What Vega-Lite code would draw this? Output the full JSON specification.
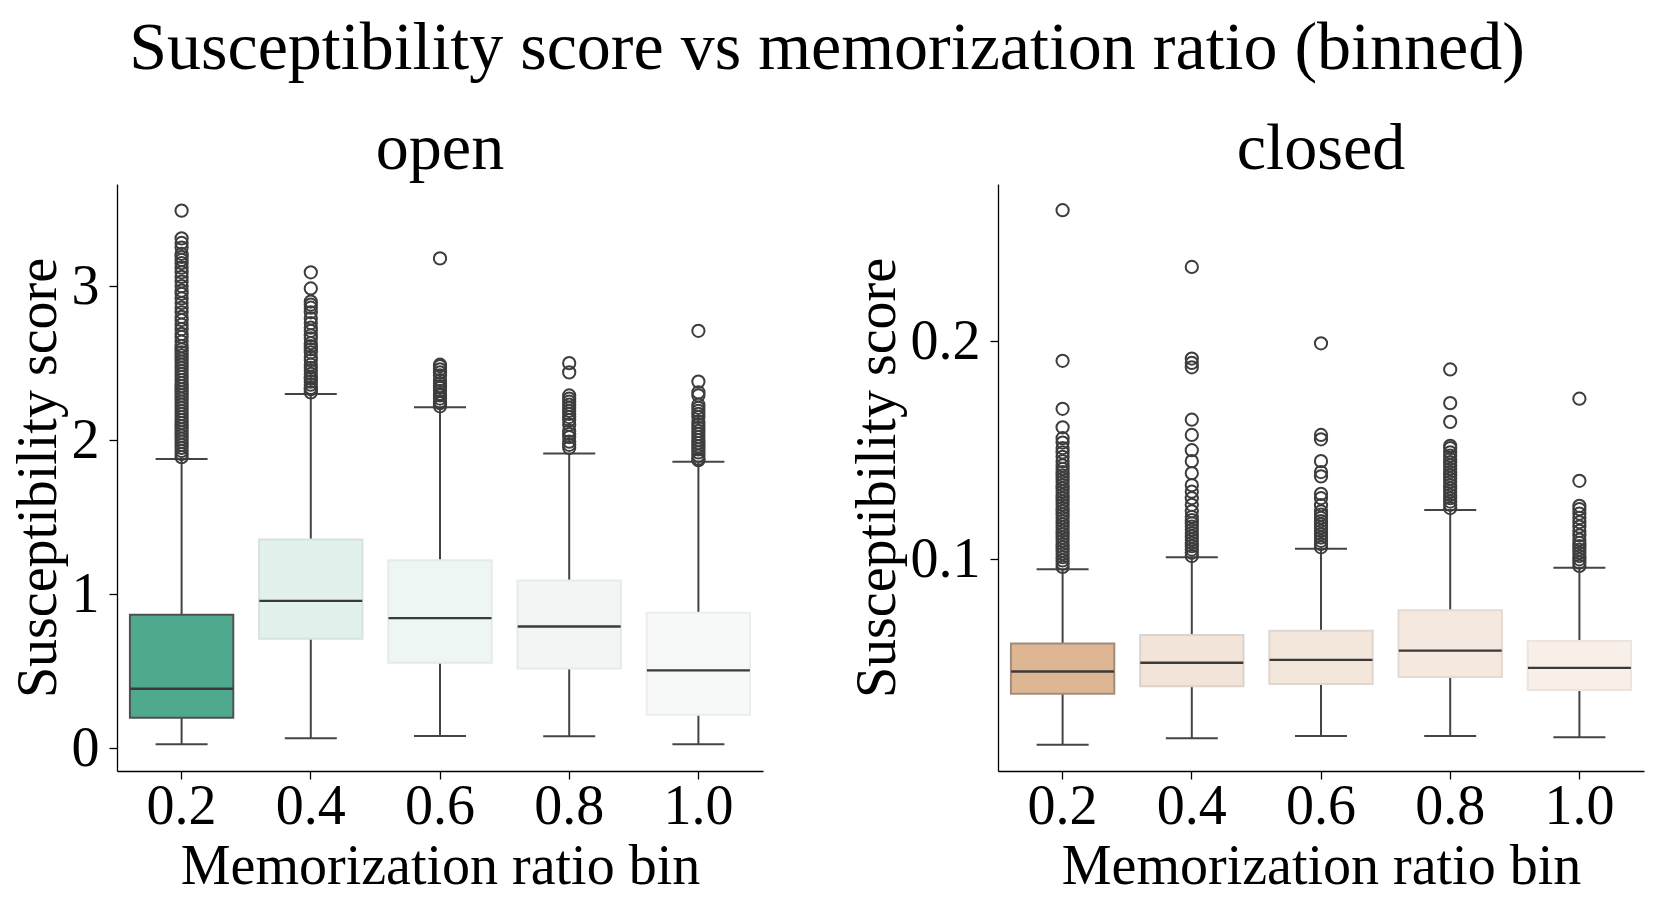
{
  "$schema": "https://vega.github.io/schema/vega-lite/v6.json",
  "background": "white",
  "padding": {"left": 10, "top": 15, "right": 10, "bottom": 10},
  "datasets": {
    "boxes": [
      {"group": "open", "bin": "0.2", "key": "open 0.2", "lo": 0.025, "q1": 0.198, "med": 0.386, "q3": 0.866, "hi": 1.877},
      {"group": "open", "bin": "0.4", "key": "open 0.4", "lo": 0.065, "q1": 0.71, "med": 0.956, "q3": 1.355, "hi": 2.30},
      {"group": "open", "bin": "0.6", "key": "open 0.6", "lo": 0.079, "q1": 0.554, "med": 0.845, "q3": 1.22, "hi": 2.214},
      {"group": "open", "bin": "0.8", "key": "open 0.8", "lo": 0.077, "q1": 0.518, "med": 0.79, "q3": 1.088, "hi": 1.913},
      {"group": "open", "bin": "1.0", "key": "open 1.0", "lo": 0.025, "q1": 0.217, "med": 0.505, "q3": 0.879, "hi": 1.86},
      {"group": "closed", "bin": "0.2", "key": "closed 0.2", "lo": 0.015, "q1": 0.0384, "med": 0.0486, "q3": 0.0614, "hi": 0.0954},
      {"group": "closed", "bin": "0.4", "key": "closed 0.4", "lo": 0.018, "q1": 0.0418, "med": 0.0526, "q3": 0.0653, "hi": 0.101},
      {"group": "closed", "bin": "0.6", "key": "closed 0.6", "lo": 0.019, "q1": 0.0429, "med": 0.0539, "q3": 0.0673, "hi": 0.1049},
      {"group": "closed", "bin": "0.8", "key": "closed 0.8", "lo": 0.019, "q1": 0.0461, "med": 0.0582, "q3": 0.0767, "hi": 0.1226},
      {"group": "closed", "bin": "1.0", "key": "closed 1.0", "lo": 0.0185, "q1": 0.0401, "med": 0.0503, "q3": 0.0626, "hi": 0.0961}
    ],
    "outliers": [
      {"group": "open", "bin": "0.2", "v": 1.89}, {"group": "open", "bin": "0.2", "v": 1.91}, {"group": "open", "bin": "0.2", "v": 1.93}, {"group": "open", "bin": "0.2", "v": 1.95}, {"group": "open", "bin": "0.2", "v": 1.97}, {"group": "open", "bin": "0.2", "v": 1.99}, {"group": "open", "bin": "0.2", "v": 2.01}, {"group": "open", "bin": "0.2", "v": 2.03}, {"group": "open", "bin": "0.2", "v": 2.05}, {"group": "open", "bin": "0.2", "v": 2.07}, {"group": "open", "bin": "0.2", "v": 2.09}, {"group": "open", "bin": "0.2", "v": 2.11}, {"group": "open", "bin": "0.2", "v": 2.13}, {"group": "open", "bin": "0.2", "v": 2.15}, {"group": "open", "bin": "0.2", "v": 2.17}, {"group": "open", "bin": "0.2", "v": 2.19}, {"group": "open", "bin": "0.2", "v": 2.21}, {"group": "open", "bin": "0.2", "v": 2.23}, {"group": "open", "bin": "0.2", "v": 2.25}, {"group": "open", "bin": "0.2", "v": 2.27}, {"group": "open", "bin": "0.2", "v": 2.29}, {"group": "open", "bin": "0.2", "v": 2.31}, {"group": "open", "bin": "0.2", "v": 2.33}, {"group": "open", "bin": "0.2", "v": 2.35}, {"group": "open", "bin": "0.2", "v": 2.37}, {"group": "open", "bin": "0.2", "v": 2.39}, {"group": "open", "bin": "0.2", "v": 2.41}, {"group": "open", "bin": "0.2", "v": 2.43}, {"group": "open", "bin": "0.2", "v": 2.45}, {"group": "open", "bin": "0.2", "v": 2.47}, {"group": "open", "bin": "0.2", "v": 2.49}, {"group": "open", "bin": "0.2", "v": 2.51}, {"group": "open", "bin": "0.2", "v": 2.53}, {"group": "open", "bin": "0.2", "v": 2.55}, {"group": "open", "bin": "0.2", "v": 2.57}, {"group": "open", "bin": "0.2", "v": 2.59}, {"group": "open", "bin": "0.2", "v": 2.61}, {"group": "open", "bin": "0.2", "v": 2.64}, {"group": "open", "bin": "0.2", "v": 2.67}, {"group": "open", "bin": "0.2", "v": 2.69}, {"group": "open", "bin": "0.2", "v": 2.72}, {"group": "open", "bin": "0.2", "v": 2.75}, {"group": "open", "bin": "0.2", "v": 2.78}, {"group": "open", "bin": "0.2", "v": 2.8}, {"group": "open", "bin": "0.2", "v": 2.83}, {"group": "open", "bin": "0.2", "v": 2.86}, {"group": "open", "bin": "0.2", "v": 2.89}, {"group": "open", "bin": "0.2", "v": 2.92}, {"group": "open", "bin": "0.2", "v": 2.95}, {"group": "open", "bin": "0.2", "v": 2.97}, {"group": "open", "bin": "0.2", "v": 3.0}, {"group": "open", "bin": "0.2", "v": 3.03}, {"group": "open", "bin": "0.2", "v": 3.06}, {"group": "open", "bin": "0.2", "v": 3.09}, {"group": "open", "bin": "0.2", "v": 3.12}, {"group": "open", "bin": "0.2", "v": 3.15}, {"group": "open", "bin": "0.2", "v": 3.17}, {"group": "open", "bin": "0.2", "v": 3.19}, {"group": "open", "bin": "0.2", "v": 3.21}, {"group": "open", "bin": "0.2", "v": 3.25}, {"group": "open", "bin": "0.2", "v": 3.28}, {"group": "open", "bin": "0.2", "v": 3.31}, {"group": "open", "bin": "0.2", "v": 3.49},
      {"group": "open", "bin": "0.4", "v": 2.31}, {"group": "open", "bin": "0.4", "v": 2.33}, {"group": "open", "bin": "0.4", "v": 2.34}, {"group": "open", "bin": "0.4", "v": 2.36}, {"group": "open", "bin": "0.4", "v": 2.38}, {"group": "open", "bin": "0.4", "v": 2.4}, {"group": "open", "bin": "0.4", "v": 2.41}, {"group": "open", "bin": "0.4", "v": 2.43}, {"group": "open", "bin": "0.4", "v": 2.45}, {"group": "open", "bin": "0.4", "v": 2.47}, {"group": "open", "bin": "0.4", "v": 2.49}, {"group": "open", "bin": "0.4", "v": 2.52}, {"group": "open", "bin": "0.4", "v": 2.54}, {"group": "open", "bin": "0.4", "v": 2.57}, {"group": "open", "bin": "0.4", "v": 2.59}, {"group": "open", "bin": "0.4", "v": 2.61}, {"group": "open", "bin": "0.4", "v": 2.63}, {"group": "open", "bin": "0.4", "v": 2.66}, {"group": "open", "bin": "0.4", "v": 2.68}, {"group": "open", "bin": "0.4", "v": 2.71}, {"group": "open", "bin": "0.4", "v": 2.73}, {"group": "open", "bin": "0.4", "v": 2.76}, {"group": "open", "bin": "0.4", "v": 2.79}, {"group": "open", "bin": "0.4", "v": 2.83}, {"group": "open", "bin": "0.4", "v": 2.86}, {"group": "open", "bin": "0.4", "v": 2.88}, {"group": "open", "bin": "0.4", "v": 2.9}, {"group": "open", "bin": "0.4", "v": 2.985}, {"group": "open", "bin": "0.4", "v": 3.09},
      {"group": "open", "bin": "0.6", "v": 2.22}, {"group": "open", "bin": "0.6", "v": 2.24}, {"group": "open", "bin": "0.6", "v": 2.25}, {"group": "open", "bin": "0.6", "v": 2.27}, {"group": "open", "bin": "0.6", "v": 2.29}, {"group": "open", "bin": "0.6", "v": 2.3}, {"group": "open", "bin": "0.6", "v": 2.32}, {"group": "open", "bin": "0.6", "v": 2.34}, {"group": "open", "bin": "0.6", "v": 2.35}, {"group": "open", "bin": "0.6", "v": 2.37}, {"group": "open", "bin": "0.6", "v": 2.39}, {"group": "open", "bin": "0.6", "v": 2.42}, {"group": "open", "bin": "0.6", "v": 2.44}, {"group": "open", "bin": "0.6", "v": 2.46}, {"group": "open", "bin": "0.6", "v": 2.48}, {"group": "open", "bin": "0.6", "v": 2.49}, {"group": "open", "bin": "0.6", "v": 3.18},
      {"group": "open", "bin": "0.8", "v": 1.95}, {"group": "open", "bin": "0.8", "v": 1.97}, {"group": "open", "bin": "0.8", "v": 1.99}, {"group": "open", "bin": "0.8", "v": 2.02}, {"group": "open", "bin": "0.8", "v": 2.04}, {"group": "open", "bin": "0.8", "v": 2.06}, {"group": "open", "bin": "0.8", "v": 2.1}, {"group": "open", "bin": "0.8", "v": 2.13}, {"group": "open", "bin": "0.8", "v": 2.15}, {"group": "open", "bin": "0.8", "v": 2.17}, {"group": "open", "bin": "0.8", "v": 2.19}, {"group": "open", "bin": "0.8", "v": 2.21}, {"group": "open", "bin": "0.8", "v": 2.23}, {"group": "open", "bin": "0.8", "v": 2.25}, {"group": "open", "bin": "0.8", "v": 2.27}, {"group": "open", "bin": "0.8", "v": 2.29}, {"group": "open", "bin": "0.8", "v": 2.44}, {"group": "open", "bin": "0.8", "v": 2.5},
      {"group": "open", "bin": "1.0", "v": 1.87}, {"group": "open", "bin": "1.0", "v": 1.88}, {"group": "open", "bin": "1.0", "v": 1.9}, {"group": "open", "bin": "1.0", "v": 1.92}, {"group": "open", "bin": "1.0", "v": 1.94}, {"group": "open", "bin": "1.0", "v": 1.96}, {"group": "open", "bin": "1.0", "v": 1.98}, {"group": "open", "bin": "1.0", "v": 2.0}, {"group": "open", "bin": "1.0", "v": 2.02}, {"group": "open", "bin": "1.0", "v": 2.04}, {"group": "open", "bin": "1.0", "v": 2.06}, {"group": "open", "bin": "1.0", "v": 2.08}, {"group": "open", "bin": "1.0", "v": 2.1}, {"group": "open", "bin": "1.0", "v": 2.12}, {"group": "open", "bin": "1.0", "v": 2.15}, {"group": "open", "bin": "1.0", "v": 2.17}, {"group": "open", "bin": "1.0", "v": 2.19}, {"group": "open", "bin": "1.0", "v": 2.21}, {"group": "open", "bin": "1.0", "v": 2.23}, {"group": "open", "bin": "1.0", "v": 2.29}, {"group": "open", "bin": "1.0", "v": 2.31}, {"group": "open", "bin": "1.0", "v": 2.38}, {"group": "open", "bin": "1.0", "v": 2.71},
      {"group": "closed", "bin": "0.2", "v": 0.0965}, {"group": "closed", "bin": "0.2", "v": 0.098}, {"group": "closed", "bin": "0.2", "v": 0.0995}, {"group": "closed", "bin": "0.2", "v": 0.101}, {"group": "closed", "bin": "0.2", "v": 0.1025}, {"group": "closed", "bin": "0.2", "v": 0.104}, {"group": "closed", "bin": "0.2", "v": 0.1055}, {"group": "closed", "bin": "0.2", "v": 0.107}, {"group": "closed", "bin": "0.2", "v": 0.1085}, {"group": "closed", "bin": "0.2", "v": 0.11}, {"group": "closed", "bin": "0.2", "v": 0.1115}, {"group": "closed", "bin": "0.2", "v": 0.113}, {"group": "closed", "bin": "0.2", "v": 0.1145}, {"group": "closed", "bin": "0.2", "v": 0.116}, {"group": "closed", "bin": "0.2", "v": 0.1175}, {"group": "closed", "bin": "0.2", "v": 0.119}, {"group": "closed", "bin": "0.2", "v": 0.1205}, {"group": "closed", "bin": "0.2", "v": 0.122}, {"group": "closed", "bin": "0.2", "v": 0.1235}, {"group": "closed", "bin": "0.2", "v": 0.125}, {"group": "closed", "bin": "0.2", "v": 0.1265}, {"group": "closed", "bin": "0.2", "v": 0.128}, {"group": "closed", "bin": "0.2", "v": 0.1295}, {"group": "closed", "bin": "0.2", "v": 0.131}, {"group": "closed", "bin": "0.2", "v": 0.1325}, {"group": "closed", "bin": "0.2", "v": 0.134}, {"group": "closed", "bin": "0.2", "v": 0.1355}, {"group": "closed", "bin": "0.2", "v": 0.137}, {"group": "closed", "bin": "0.2", "v": 0.1385}, {"group": "closed", "bin": "0.2", "v": 0.14}, {"group": "closed", "bin": "0.2", "v": 0.1415}, {"group": "closed", "bin": "0.2", "v": 0.143}, {"group": "closed", "bin": "0.2", "v": 0.145}, {"group": "closed", "bin": "0.2", "v": 0.147}, {"group": "closed", "bin": "0.2", "v": 0.149}, {"group": "closed", "bin": "0.2", "v": 0.151}, {"group": "closed", "bin": "0.2", "v": 0.1535}, {"group": "closed", "bin": "0.2", "v": 0.1555}, {"group": "closed", "bin": "0.2", "v": 0.1605}, {"group": "closed", "bin": "0.2", "v": 0.169}, {"group": "closed", "bin": "0.2", "v": 0.191}, {"group": "closed", "bin": "0.2", "v": 0.26},
      {"group": "closed", "bin": "0.4", "v": 0.1015}, {"group": "closed", "bin": "0.4", "v": 0.103}, {"group": "closed", "bin": "0.4", "v": 0.1045}, {"group": "closed", "bin": "0.4", "v": 0.106}, {"group": "closed", "bin": "0.4", "v": 0.1075}, {"group": "closed", "bin": "0.4", "v": 0.109}, {"group": "closed", "bin": "0.4", "v": 0.1105}, {"group": "closed", "bin": "0.4", "v": 0.112}, {"group": "closed", "bin": "0.4", "v": 0.1135}, {"group": "closed", "bin": "0.4", "v": 0.115}, {"group": "closed", "bin": "0.4", "v": 0.1165}, {"group": "closed", "bin": "0.4", "v": 0.118}, {"group": "closed", "bin": "0.4", "v": 0.1195}, {"group": "closed", "bin": "0.4", "v": 0.122}, {"group": "closed", "bin": "0.4", "v": 0.125}, {"group": "closed", "bin": "0.4", "v": 0.128}, {"group": "closed", "bin": "0.4", "v": 0.131}, {"group": "closed", "bin": "0.4", "v": 0.134}, {"group": "closed", "bin": "0.4", "v": 0.1395}, {"group": "closed", "bin": "0.4", "v": 0.145}, {"group": "closed", "bin": "0.4", "v": 0.15}, {"group": "closed", "bin": "0.4", "v": 0.157}, {"group": "closed", "bin": "0.4", "v": 0.164}, {"group": "closed", "bin": "0.4", "v": 0.188}, {"group": "closed", "bin": "0.4", "v": 0.19}, {"group": "closed", "bin": "0.4", "v": 0.192}, {"group": "closed", "bin": "0.4", "v": 0.234},
      {"group": "closed", "bin": "0.6", "v": 0.1055}, {"group": "closed", "bin": "0.6", "v": 0.107}, {"group": "closed", "bin": "0.6", "v": 0.1085}, {"group": "closed", "bin": "0.6", "v": 0.11}, {"group": "closed", "bin": "0.6", "v": 0.1115}, {"group": "closed", "bin": "0.6", "v": 0.113}, {"group": "closed", "bin": "0.6", "v": 0.1145}, {"group": "closed", "bin": "0.6", "v": 0.116}, {"group": "closed", "bin": "0.6", "v": 0.1175}, {"group": "closed", "bin": "0.6", "v": 0.119}, {"group": "closed", "bin": "0.6", "v": 0.1205}, {"group": "closed", "bin": "0.6", "v": 0.122}, {"group": "closed", "bin": "0.6", "v": 0.1248}, {"group": "closed", "bin": "0.6", "v": 0.128}, {"group": "closed", "bin": "0.6", "v": 0.13}, {"group": "closed", "bin": "0.6", "v": 0.138}, {"group": "closed", "bin": "0.6", "v": 0.14}, {"group": "closed", "bin": "0.6", "v": 0.145}, {"group": "closed", "bin": "0.6", "v": 0.155}, {"group": "closed", "bin": "0.6", "v": 0.157}, {"group": "closed", "bin": "0.6", "v": 0.199},
      {"group": "closed", "bin": "0.8", "v": 0.1235}, {"group": "closed", "bin": "0.8", "v": 0.125}, {"group": "closed", "bin": "0.8", "v": 0.1265}, {"group": "closed", "bin": "0.8", "v": 0.128}, {"group": "closed", "bin": "0.8", "v": 0.1295}, {"group": "closed", "bin": "0.8", "v": 0.131}, {"group": "closed", "bin": "0.8", "v": 0.1325}, {"group": "closed", "bin": "0.8", "v": 0.134}, {"group": "closed", "bin": "0.8", "v": 0.1355}, {"group": "closed", "bin": "0.8", "v": 0.137}, {"group": "closed", "bin": "0.8", "v": 0.1385}, {"group": "closed", "bin": "0.8", "v": 0.14}, {"group": "closed", "bin": "0.8", "v": 0.1415}, {"group": "closed", "bin": "0.8", "v": 0.143}, {"group": "closed", "bin": "0.8", "v": 0.1445}, {"group": "closed", "bin": "0.8", "v": 0.146}, {"group": "closed", "bin": "0.8", "v": 0.1475}, {"group": "closed", "bin": "0.8", "v": 0.149}, {"group": "closed", "bin": "0.8", "v": 0.151}, {"group": "closed", "bin": "0.8", "v": 0.152}, {"group": "closed", "bin": "0.8", "v": 0.163}, {"group": "closed", "bin": "0.8", "v": 0.1716}, {"group": "closed", "bin": "0.8", "v": 0.187},
      {"group": "closed", "bin": "1.0", "v": 0.097}, {"group": "closed", "bin": "1.0", "v": 0.0985}, {"group": "closed", "bin": "1.0", "v": 0.1}, {"group": "closed", "bin": "1.0", "v": 0.1015}, {"group": "closed", "bin": "1.0", "v": 0.103}, {"group": "closed", "bin": "1.0", "v": 0.1045}, {"group": "closed", "bin": "1.0", "v": 0.106}, {"group": "closed", "bin": "1.0", "v": 0.1075}, {"group": "closed", "bin": "1.0", "v": 0.109}, {"group": "closed", "bin": "1.0", "v": 0.111}, {"group": "closed", "bin": "1.0", "v": 0.113}, {"group": "closed", "bin": "1.0", "v": 0.115}, {"group": "closed", "bin": "1.0", "v": 0.117}, {"group": "closed", "bin": "1.0", "v": 0.119}, {"group": "closed", "bin": "1.0", "v": 0.121}, {"group": "closed", "bin": "1.0", "v": 0.123}, {"group": "closed", "bin": "1.0", "v": 0.1245}, {"group": "closed", "bin": "1.0", "v": 0.136}, {"group": "closed", "bin": "1.0", "v": 0.1736}
    ]
  },
  "title": {"text": "Susceptibility score vs memorization ratio (binned)", "fontSize": 68, "font": "Liberation Serif", "fontWeight": "normal", "anchor": "middle", "color": "black", "offset": 33},
  "config": {
    "font": "Liberation Serif",
    "view": {"stroke": null},
    "axis": {"grid": false, "domainColor": "black", "domainWidth": 1.3, "tickColor": "black", "tickWidth": 1.3, "tickSize": 8, "labelFontSize": 56, "titleFontSize": 56, "labelColor": "black", "titleColor": "black", "titleFontWeight": "normal", "labelFont": "Liberation Serif", "titleFont": "Liberation Serif"},
    "title": {"font": "Liberation Serif"}
  },
  "resolve": {"scale": {"fill": "shared", "stroke": "shared"}},
  "spacing": 86,
  "hconcat": [
    {
      "width": 646, "height": 587,
      "title": {"text": "open", "fontSize": 66, "fontWeight": "normal", "color": "black", "frame": "group", "anchor": "middle", "offset": 1},
      "layer": [
        {"data": {"name": "boxes"}, "transform": [{"filter": "datum.group === 'open'"}],
         "mark": {"type": "rule", "color": "#444444", "strokeWidth": 2},
         "encoding": {
           "x": {"field": "bin", "type": "nominal", "scale": {"type": "band", "domain": ["0.2", "0.4", "0.6", "0.8", "1.0"], "paddingInner": 0, "paddingOuter": 0}, "axis": {"title": "Memorization ratio bin", "labelAngle": 0, "bandPosition": 0.5, "labelPadding": 0, "titlePadding": 5}},
           "y": {"field": "lo", "type": "quantitative", "scale": {"domain": [-0.148, 3.663], "nice": false, "zero": false}, "axis": {"title": "Susceptibility score", "values": [0, 1, 2, 3], "format": "d", "labelPadding": 10, "titlePadding": 4}},
           "y2": {"field": "hi"}
         }},
        {"data": {"name": "boxes"}, "transform": [{"filter": "datum.group === 'open'"}],
         "mark": {"type": "bar", "width": {"band": 0.8}, "strokeWidth": 2},
         "encoding": {
           "x": {"field": "bin", "type": "nominal"},
           "y": {"field": "q1", "type": "quantitative"},
           "y2": {"field": "q3"},
           "fill": {"field": "key", "type": "nominal", "legend": null, "scale": {"domain": ["open 0.2", "open 0.4", "open 0.6", "open 0.8", "open 1.0", "closed 0.2", "closed 0.4", "closed 0.6", "closed 0.8", "closed 1.0"], "range": ["#4fa98e", "#e2f1ec", "#eef6f3", "#f1f6f4", "#f7f9f8", "#dfb694", "#f2e4d9", "#f3e6db", "#f4e8df", "#f8efe9"]}},
           "stroke": {"field": "key", "type": "nominal", "legend": null, "scale": {"domain": ["open 0.2", "open 0.4", "open 0.6", "open 0.8", "open 1.0", "closed 0.2", "closed 0.4", "closed 0.6", "closed 0.8", "closed 1.0"], "range": ["#505050", "#d6e3df", "#e2ebe7", "#e5ebe8", "#eceeed", "#a08c7c", "#dcd3cc", "#dfd6cf", "#e2dad3", "#ebe4df"]}}
         }},
        {"data": {"name": "boxes"}, "transform": [{"filter": "datum.group === 'open'"}],
         "mark": {"type": "tick", "color": "#444444", "size": 52, "thickness": 2, "opacity": 1},
         "encoding": {"x": {"field": "bin", "type": "nominal"}, "y": {"field": "lo", "type": "quantitative"}}},
        {"data": {"name": "boxes"}, "transform": [{"filter": "datum.group === 'open'"}],
         "mark": {"type": "tick", "color": "#444444", "size": 52, "thickness": 2, "opacity": 1},
         "encoding": {"x": {"field": "bin", "type": "nominal"}, "y": {"field": "hi", "type": "quantitative"}}},
        {"data": {"name": "boxes"}, "transform": [{"filter": "datum.group === 'open'"}],
         "mark": {"type": "tick", "color": "#3a3a3a", "size": 103, "thickness": 2.3, "opacity": 1},
         "encoding": {"x": {"field": "bin", "type": "nominal"}, "y": {"field": "med", "type": "quantitative"}}},
        {"data": {"name": "outliers"}, "transform": [{"filter": "datum.group === 'open'"}],
         "mark": {"type": "point", "shape": "circle", "filled": false, "stroke": "#3d3d3d", "strokeWidth": 2, "size": 150, "opacity": 1},
         "encoding": {"x": {"field": "bin", "type": "nominal"}, "y": {"field": "v", "type": "quantitative"}}}
      ]
    },
    {
      "width": 646, "height": 587,
      "title": {"text": "closed", "fontSize": 66, "fontWeight": "normal", "color": "black", "frame": "group", "anchor": "middle", "offset": 1},
      "layer": [
        {"data": {"name": "boxes"}, "transform": [{"filter": "datum.group === 'closed'"}],
         "mark": {"type": "rule", "color": "#444444", "strokeWidth": 2},
         "encoding": {
           "x": {"field": "bin", "type": "nominal", "scale": {"type": "band", "domain": ["0.2", "0.4", "0.6", "0.8", "1.0"], "paddingInner": 0, "paddingOuter": 0}, "axis": {"title": "Memorization ratio bin", "labelAngle": 0, "bandPosition": 0.5, "labelPadding": 0, "titlePadding": 5}},
           "y": {"field": "lo", "type": "quantitative", "scale": {"domain": [0.003, 0.272], "nice": false, "zero": false}, "axis": {"title": "Susceptibility score", "values": [0.1, 0.2], "format": ".1f", "labelPadding": 10, "titlePadding": 4}},
           "y2": {"field": "hi"}
         }},
        {"data": {"name": "boxes"}, "transform": [{"filter": "datum.group === 'closed'"}],
         "mark": {"type": "bar", "width": {"band": 0.8}, "strokeWidth": 2},
         "encoding": {
           "x": {"field": "bin", "type": "nominal"},
           "y": {"field": "q1", "type": "quantitative"},
           "y2": {"field": "q3"},
           "fill": {"field": "key", "type": "nominal", "legend": null, "scale": {"domain": ["open 0.2", "open 0.4", "open 0.6", "open 0.8", "open 1.0", "closed 0.2", "closed 0.4", "closed 0.6", "closed 0.8", "closed 1.0"], "range": ["#4fa98e", "#e2f1ec", "#eef6f3", "#f1f6f4", "#f7f9f8", "#dfb694", "#f2e4d9", "#f3e6db", "#f4e8df", "#f8efe9"]}},
           "stroke": {"field": "key", "type": "nominal", "legend": null, "scale": {"domain": ["open 0.2", "open 0.4", "open 0.6", "open 0.8", "open 1.0", "closed 0.2", "closed 0.4", "closed 0.6", "closed 0.8", "closed 1.0"], "range": ["#505050", "#d6e3df", "#e2ebe7", "#e5ebe8", "#eceeed", "#a08c7c", "#dcd3cc", "#dfd6cf", "#e2dad3", "#ebe4df"]}}
         }},
        {"data": {"name": "boxes"}, "transform": [{"filter": "datum.group === 'closed'"}],
         "mark": {"type": "tick", "color": "#444444", "size": 52, "thickness": 2, "opacity": 1},
         "encoding": {"x": {"field": "bin", "type": "nominal"}, "y": {"field": "lo", "type": "quantitative"}}},
        {"data": {"name": "boxes"}, "transform": [{"filter": "datum.group === 'closed'"}],
         "mark": {"type": "tick", "color": "#444444", "size": 52, "thickness": 2, "opacity": 1},
         "encoding": {"x": {"field": "bin", "type": "nominal"}, "y": {"field": "hi", "type": "quantitative"}}},
        {"data": {"name": "boxes"}, "transform": [{"filter": "datum.group === 'closed'"}],
         "mark": {"type": "tick", "color": "#3a3a3a", "size": 103, "thickness": 2.3, "opacity": 1},
         "encoding": {"x": {"field": "bin", "type": "nominal"}, "y": {"field": "med", "type": "quantitative"}}},
        {"data": {"name": "outliers"}, "transform": [{"filter": "datum.group === 'closed'"}],
         "mark": {"type": "point", "shape": "circle", "filled": false, "stroke": "#3d3d3d", "strokeWidth": 2, "size": 150, "opacity": 1},
         "encoding": {"x": {"field": "bin", "type": "nominal"}, "y": {"field": "v", "type": "quantitative"}}}
      ]
    }
  ]
}
